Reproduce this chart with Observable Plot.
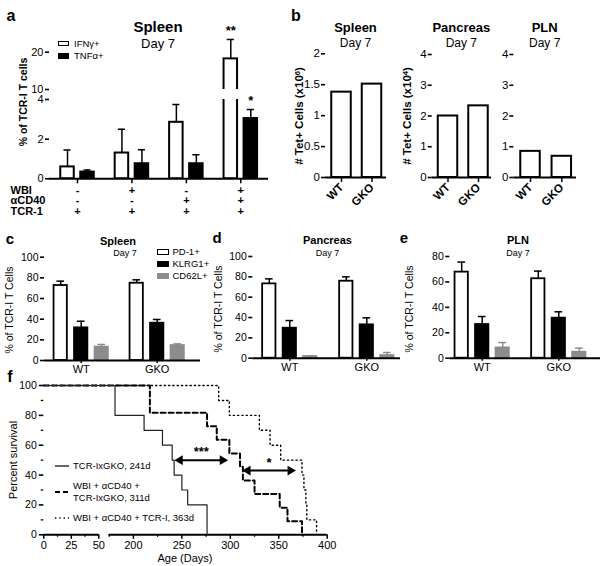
<!DOCTYPE html>
<html><head><meta charset="utf-8">
<script src="https://cdn.jsdelivr.net/npm/d3@7"></script>
<script src="https://cdn.jsdelivr.net/npm/@observablehq/plot@0.6"></script>
<style>
body{margin:0;background:#fff;}
#root{position:relative;width:604px;height:566px;overflow:hidden;background:#fff;font-family:'Liberation Sans',Arial,Helvetica,sans-serif;color:#000;}
#root > svg{position:absolute;left:0;top:0;}
.t{position:absolute;white-space:nowrap;line-height:1;}
.t sup{font-size:65%;vertical-align:0.45em;line-height:0;}
.top{z-index:10;}
</style></head><body><div id="root"></div>
<script>
// ---------- DATA ----------
// panel a
const aGroups = ["g1", "g2", "g3", "g4"];
const aIFN = [0.6, 1.3, 2.85, 18.2];
const aIFNerr = [0.85, 1.2, 0.9, 5.2];
const aTNF = [0.34, 0.76, 0.76, 3.04];
const aTNFerr = [0.1, 0.7, 0.45, 0.45];
const aRowLabels = ["WBI", "\u03b1CD40", "TCR-1"];
const aWBI = ["-", "+", "-", "+"];
const aCD40 = ["-", "-", "+", "+"];
const aTCR1 = ["+", "+", "+", "+"];
const aStars = [{g: "g4", s: "IFN", label: "**"}, {g: "g4", s: "TNF", label: "*"}];
const aUpperTicks = [10, 20];
const aLowerTicks = [0, 2, 4];
// panel b
const bGroups = ["WT", "GKO"];
const bSpleen = [1.38, 1.51];
const bPancreas = [2.0, 2.33];
const bPLN = [0.85, 0.69];
// panels c, d, e
const cdeGroups = ["WT", "GKO"];
const cdeSeries = ["PD-1+", "KLRG1+", "CD62L+"];
const cPD1 = [72.6, 74.8], cPD1err = [4.2, 3.3];
const cKLRG1 = [31.6, 36.1], cKLRG1err = [6.4, 3.6];
const cCD62L = [12.9, 14.5], cCD62Lerr = [2.6, 1.6];
const dPD1 = [73.1, 75.7], dPD1err = [4.9, 4.3];
const dKLRG1 = [29.5, 32.8], dKLRG1err = [7.5, 6.9];
const dCD62L = [1.6, 2.6], dCD62Lerr = [0.7, 3.0];
const ePD1 = [67.7, 62.5], ePD1err = [7.9, 6.0];
const eKLRG1 = [26.5, 31.5], eKLRG1err = [6.3, 5.0];
const eCD62L = [8.1, 4.7], eCD62Lerr = [4.2, 3.2];
// panel f (Kaplan-Meier steps)
const fSolidDays = [0, 181, 211, 230, 240, 242, 250, 256, 276];
const fSolidPct = [100, 80, 70, 60, 50, 40, 30, 20, 0];
const fDashDays = [0, 217, 276, 286, 299, 310, 313, 325, 351, 359, 374];
const fDashPct = [100, 81.8, 72.7, 63.6, 54.5, 45.5, 36.4, 27.3, 18.2, 9.1, 0];
const fDotDays = [0, 288, 299, 330, 341, 352, 374, 376, 378, 379, 389];
const fDotPct = [100, 90, 80, 70, 60, 50, 40, 30, 20, 10, 0];
const fArrows = [{x1: 248, x2: 292, y: 50, label: "***"}, {x1: 318, x2: 362, y: 43, label: "*"}];
const fXTicks = [0, 25, 50, 200, 250, 300, 350, 400];
const fXMinor = [12.5, 37.5, 175, 225, 275, 325, 375];
const fYTicks = [0, 20, 40, 60, 80, 100];
const fYMinor = [10, 30, 50, 70, 90];
const fXSegments = [[0, 50], [175, 400]];
const fLegend = ["TCR-IxGKO, 241d", "WBI + \u03b1CD40 +<br>TCR-IxGKO, 311d", "WBI + \u03b1CD40 + TCR-I, 363d"];

// ---------- HELPERS ----------
const W = 604, H = 566;
const FONT = "'Liberation Sans', Arial, Helvetica, sans-serif";
const root = document.getElementById("root");
const fmt = d => String(d);
function box(l, t, r, b) { return {width: W, height: H, marginLeft: l, marginTop: t, marginRight: W - r, marginBottom: H - b}; }
function draw(opts) {
  const svg = Plot.plot({...opts, style: {background: "none", fontFamily: FONT, overflow: "visible", color: "#000"}});
  svg.style.position = "absolute"; svg.style.left = "0"; svg.style.top = "0";
  root.appendChild(svg);
  return svg;
}
function txt(html, x, y, o = {}) {
  const d = document.createElement("div");
  d.className = "t" + (o.top ? " top" : ""); d.innerHTML = html;
  d.style.left = x + "px"; d.style.top = y + "px";
  d.style.fontSize = (o.size || 11) + "px";
  d.style.fontWeight = o.weight || "normal";
  const tx = o.anchor === "start" ? "0" : o.anchor === "end" ? "-100%" : "-50%";
  d.style.transform = `translate(${tx},-50%)` + (o.rotate ? ` rotate(${o.rotate}deg)` : "");
  root.appendChild(d);
  return d;
}
function swatch(x, y, w, h, fill, stroke) {
  const d = document.createElement("div");
  d.style.cssText = `position:absolute;left:${x}px;top:${y}px;width:${w}px;height:${h}px;background:${fill};border:1.5px solid ${stroke};box-sizing:border-box;`;
  root.appendChild(d);
}
function band(domain, c0, c1, bw) {
  const s = (c1 - c0) / (domain.length - 1);
  const p = 1 - bw / s;
  return {type: "band", domain, range: [c0 - s / 2, c1 + s / 2], paddingInner: p, paddingOuter: p / 2, round: false};
}
function yAxis(ticks, size, o = {}) {
  return Plot.axisY({ticks, tickFormat: fmt, tickSize: 4, tickPadding: 2, line: true, label: null, fontSize: size, strokeWidth: 1.6, fill: "black", stroke: "black", ...o});
}

// ---------- PANEL A ----------
const aData = aGroups.flatMap((g, i) => [
  {g, s: "IFN", v: aIFN[i], e: aIFNerr[i]},
  {g, s: "TNF", v: aTNF[i], e: aTNFerr[i]}
]);
const aStyle = {IFN: {dx: -10, fill: "white"}, TNF: {dx: 10, fill: "black"}};
const aX = band(aGroups, 77, 240.3, 13.5);
function aBars(clip) {
  return ["IFN", "TNF"].flatMap(s => {
    const d = aData.filter(r => r.s === s), st = aStyle[s];
    return [
      Plot.ruleX(d, {x: "g", y1: "v", y2: r => r.v + r.e, dx: st.dx, stroke: "black", strokeWidth: 1.5, clip}),
      Plot.tickY(d, {x: "g", y: r => r.v + r.e, dx: st.dx, insetLeft: 3.2, insetRight: 3.2, stroke: "black", strokeWidth: 1.5, clip}),
      Plot.barY(d, {x: "g", y: "v", dx: st.dx, fill: st.fill, stroke: "black", strokeWidth: 2, clip})
    ];
  });
}
const aStarData = aStars.map(s => { const r = aData.find(d => d.g === s.g && d.s === s.s); return {...s, y: r.v + r.e}; });
function aStarMarks(lo, hi) {
  return ["IFN", "TNF"].map(s => Plot.text(aStarData.filter(d => d.s === s && d.y >= lo && d.y <= hi), {x: "g", y: "y", text: "label", dx: aStyle[s].dx, dy: -9, fontSize: 13, fontWeight: "bold"}));
}
draw({...box(49, 33, 268, 89), x: {...aX, axis: null}, y: {domain: [aUpperTicks[0], 25]},
  marks: [
    yAxis(aUpperTicks, 11),
    ...aBars(true),
    ...aStarMarks(aUpperTicks[0], 25)
  ]});
const aRows = [aWBI, aCD40, aTCR1];
const aRowDy = [15, 25.5, 36];
draw({...box(49, 99, 268, 178.3), x: aX, y: {domain: [0, aLowerTicks[2]]},
  marks: [
    yAxis(aLowerTicks, 11),
    Plot.axisX({tickSize: 5, tickFormat: () => "", label: null, strokeWidth: 1.5}),
    ...aBars(true),
    Plot.ruleY([0], {strokeWidth: 2}),
    ...aStarMarks(0, aLowerTicks[2]),
    ...aRows.map((row, k) => Plot.text(aGroups, {x: d => d, text: (d, i) => row[i], frameAnchor: "bottom", dy: aRowDy[k], fontSize: 11, fontWeight: "bold"})),
    ...aRowLabels.map((lab, k) => Plot.text([lab], {frameAnchor: "bottom-left", dx: -39, dy: aRowDy[k], textAnchor: "start", fontSize: 11, fontWeight: "bold"}))
  ]});
txt("a", 11, 16, {size: 16, weight: "bold"});
txt("Spleen", 158, 26, {size: 15, weight: "bold"});
txt("Day 7", 158, 43, {size: 13});
txt("% of TCR-I T cells", 23, 102, {size: 10.5, weight: "bold", rotate: -90});
swatch(58, 40.5, 11, 5.5, "white", "black");
txt("IFN\u03b3+", 74, 43.5, {size: 9.5, anchor: "start"});
swatch(58, 53, 11, 5.5, "black", "black");
txt("TNF\u03b1+", 74, 56, {size: 9.5, anchor: "start"});

// ---------- PANEL B ----------
const bPanels = [
  {title: "Spleen", vals: bSpleen, ymax: 2, ticks: [0, 0.5, 1, 1.5, 2], fr: [325, 53.3, 386, 177], c: [341, 371.5], ylab: "# Tet+ Cells (x10<sup>6</sup>)", ylx: 300},
  {title: "Pancreas", vals: bPancreas, ymax: 4, ticks: [0, 1, 2, 3, 4], fr: [431.7, 54, 491, 177], c: [447.5, 478], ylab: "# Tet+ Cells (x10<sup>4</sup>)", ylx: 408},
  {title: "PLN", vals: bPLN, ymax: 4, ticks: [0, 1, 2, 3, 4], fr: [513.3, 54, 576, 177], c: [530, 561.3], ylab: null}
];
for (const p of bPanels) {
  const data = bGroups.map((g, i) => ({g, v: p.vals[i]}));
  draw({...box(...p.fr), x: band(bGroups, p.c[0], p.c[1], 19.5), y: {domain: [0, p.ymax]},
    marks: [
      yAxis(p.ticks, 11.5, {tickPadding: 1.5}),
      Plot.axisX({tickSize: 5, tickPadding: 3, tickRotate: -45, label: null, fontSize: 11.5, fontWeight: "bold", strokeWidth: 1.5}),
      Plot.barY(data, {x: "g", y: "v", fill: "white", stroke: "black", strokeWidth: 2}),
      Plot.ruleY([0], {strokeWidth: 2})
    ]});
  const cx = (p.fr[0] + p.fr[2]) / 2;
  txt(p.title, cx, 27, {size: 13, weight: "bold"});
  txt("Day 7", cx, 43, {size: 12});
  if (p.ylab) txt(p.ylab, p.ylx, 116, {size: 11.5, weight: "bold", rotate: -90});
}
txt("b", 296, 16, {size: 16, weight: "bold"});

// ---------- PANELS C, D, E ----------
const cdeStyle = {
  "PD-1+": {dx: -20.5, fill: "white", stroke: "black", err: "black"},
  "KLRG1+": {dx: 0, fill: "black", stroke: "black", err: "black"},
  "CD62L+": {dx: 20.5, fill: "#8c8c8c", stroke: "#8c8c8c", err: "#8c8c8c"}
};
function cdePanel(fr, c0, c1, ymax, means, errs) {
  const data = cdeGroups.flatMap((g, i) => cdeSeries.map((s, k) => ({g, s, v: means[k][i], e: errs[k][i]})));
  const marks = [
    yAxis(d3.range(0, ymax + 1, 20), 10.5),
    Plot.axisX({tickSize: 3, tickPadding: 2, label: null, fontSize: 11, strokeWidth: 1.5})
  ];
  for (const s of cdeSeries) {
    const d = data.filter(r => r.s === s), st = cdeStyle[s];
    marks.push(
      Plot.ruleX(d, {x: "g", y1: "v", y2: r => r.v + r.e, dx: st.dx, stroke: st.err, strokeWidth: 1.5}),
      Plot.tickY(d, {x: "g", y: r => r.v + r.e, dx: st.dx, insetLeft: 2.8, insetRight: 2.8, stroke: st.err, strokeWidth: 1.5}),
      Plot.barY(d, {x: "g", y: "v", dx: st.dx, fill: st.fill, stroke: st.stroke, strokeWidth: 1.8})
    );
  }
  marks.push(Plot.ruleY([0], {strokeWidth: 2}));
  draw({...box(...fr), x: band(cdeGroups, c0, c1, 13.3), y: {domain: [0, ymax]}, marks});
}
cdePanel([44, 256.7, 200, 360], 80.7, 156.7, 100, [cPD1, cKLRG1, cCD62L], [cPD1err, cKLRG1err, cCD62Lerr]);
cdePanel([252.3, 256, 400, 357.7], 289.3, 366.3, 100, [dPD1, dKLRG1, dCD62L], [dPD1err, dKLRG1err, dCD62Lerr]);
cdePanel([449.3, 256, 600, 357.7], 481.7, 558.3, 80, [ePD1, eKLRG1, eCD62L], [ePD1err, eKLRG1err, eCD62Lerr]);
txt("c", 10, 238, {size: 15, weight: "bold"});
txt("Spleen", 118, 241, {size: 11, weight: "bold"});
txt("Day 7", 125, 252.5, {size: 9});
txt("% of TCR-I T Cells", 9, 310, {size: 10.5, rotate: -90});
txt("d", 217, 237, {size: 15, weight: "bold"});
txt("Pancreas", 327.5, 240, {size: 11, weight: "bold"});
txt("Day 7", 327.5, 252.5, {size: 9});
txt("% of TCR-I T Cells", 218, 309, {size: 10.5, rotate: -90});
txt("e", 404, 237, {size: 15, weight: "bold"});
txt("PLN", 518, 240, {size: 11, weight: "bold"});
txt("Day 7", 518, 252.5, {size: 9});
txt("% of TCR-I T Cells", 409, 309, {size: 10.5, rotate: -90});
cdeSeries.forEach((s, k) => {
  const st = cdeStyle[s];
  swatch(157, 249 + k * 12.2, 11.5, 5.5, st.fill, st.stroke);
  txt(s, 172.5, 252 + k * 12.2, {size: 9.5, anchor: "start"});
});

// ---------- PANEL F ----------
const toRows = (days, pct) => days.map((d, i) => ({day: d, pct: pct[i]}));
const fSolid = toRows(fSolidDays, fSolidPct);
const fDash = toRows(fDashDays, fDashPct);
const fDot = toRows(fDotDays, fDotPct);
const fFrame = box(43.3, 385, 326.7, 534.3);
txt("f", 10, 377, {size: 16, weight: "bold"});
txt("Percent survival", 13, 460, {size: 11, rotate: -90});
txt("Age (Days)", 185, 557.5, {size: 11});
const fDash2 = ["", "5,3", "1.3,3"], fW = [1.2, 2, 1.4];
const fLegY = [466, 492, 518];
fLegend.forEach((lab, k) => {
  const s = document.createElement("div");
  s.style.cssText = `position:absolute;left:55px;top:${fLegY[k] - 3}px;width:14px;height:6px;`;
  s.innerHTML = `<svg width="14" height="6" style="display:block"><line x1="0" x2="14" y1="3" y2="3" stroke="black" stroke-width="${fW[k]}" stroke-dasharray="${fDash2[k]}"/></svg>`;
  root.appendChild(s);
  const t = txt(lab, 73, fLegY[k], {size: 9.5, anchor: "start"});
  t.style.lineHeight = "1.25";
});
const fSvg = draw({...fFrame,
  x: {type: "linear", domain: [0, 50, 175, 400], range: [43.3, 98.3, 108.7, 326.7]},
  y: {domain: [0, 100]},
  marks: [
    Plot.axisY({ticks: fYMinor, tickSize: 2.5, tickFormat: () => "", label: null, strokeWidth: 1.3, stroke: "black"}),
    Plot.axisY({ticks: fYTicks, tickSize: 4.5, tickFormat: () => "", label: null, line: true, strokeWidth: 1.6, stroke: "black"}),
    Plot.axisX({ticks: fXMinor, tickSize: 2.5, tickFormat: () => "", label: null, strokeWidth: 1.3, stroke: "black"}),
    Plot.axisX({ticks: fXTicks, tickFormat: fmt, tickSize: 4.5, tickPadding: 2, label: null, fontSize: 11, strokeWidth: 1.5, fill: "black", stroke: "black"}),
    Plot.ruleY(fXSegments, {x1: d => d[0], x2: d => d[1], y: 0, strokeWidth: 2}),
    Plot.line(fDot, {x: "day", y: "pct", curve: "step-after", stroke: "black", strokeWidth: 1.4, strokeDasharray: "1.3,3"}),
    Plot.line(fDash, {x: "day", y: "pct", curve: "step-after", stroke: "black", strokeWidth: 2, strokeDasharray: "5,3"}),
    Plot.line(fSolid, {x: "day", y: "pct", curve: "step-after", stroke: "#222", strokeWidth: 1.2}),
    Plot.link(fArrows, {x1: "x1", x2: "x2", y1: "y", y2: "y", stroke: "black", strokeWidth: 2}),
    Plot.dot(fArrows, {x: "x2", y: "y", symbol: "triangle", rotate: 90, r: 3.6, fill: "black"}),
    Plot.dot(fArrows, {x: "x1", y: "y", symbol: "triangle", rotate: -90, r: 3.6, fill: "black"}),
    Plot.text(fArrows, {x: d => (d.x1 + d.x2) / 2, y: "y", text: "label", dy: -8, fontSize: 13, fontWeight: "bold"})
  ]});
// y tick labels of panel f, positioned through the plot's own y scale, drawn on top of everything
const fYScale = fSvg.scale("y");
const fXScale = fSvg.scale("x");
const fAxisX = fXScale.apply(fXTicks[0]);
fYTicks.forEach(v => txt(fmt(v), fAxisX - 6.5, fYScale.apply(v), {size: 10.5, anchor: "end", top: true}));
</script></body></html>
